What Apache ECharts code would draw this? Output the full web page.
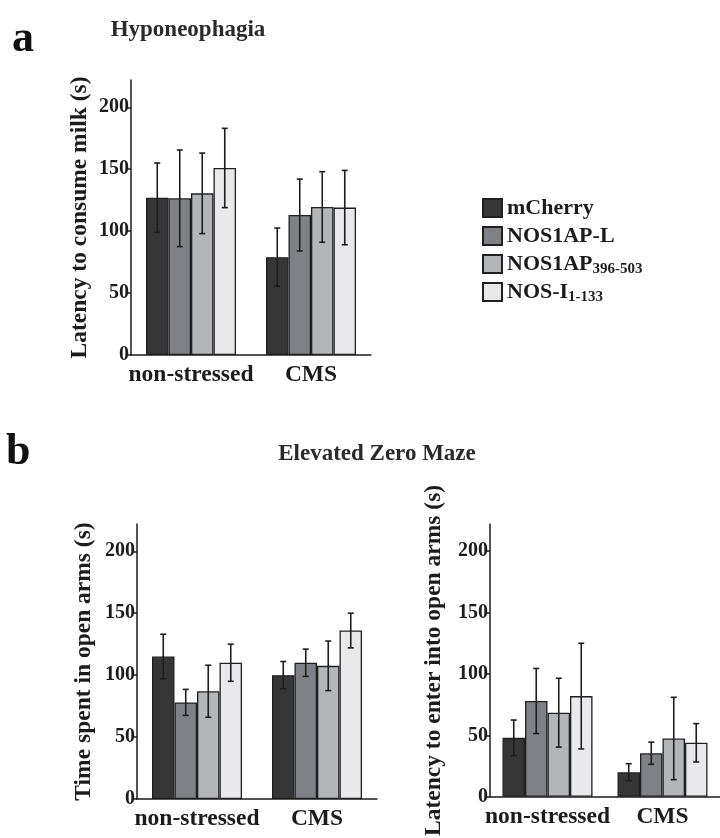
<!DOCTYPE html>
<html>
<head>
<meta charset="utf-8">
<script src="https://cdn.jsdelivr.net/npm/echarts@6/dist/echarts.min.js"></script>
<style>
  html, body { margin: 0; padding: 0; background: #ffffff; }
  #chart { width: 720px; height: 838px; }
</style>
</head>
<body>
<div id="chart"></div>
<script>
// Groups on the x axis and the four viral constructs
const groups = ['non-stressed', 'CMS'];
const constructs = ['mCherry', 'NOS1AP-L', 'NOS1AP396-503', 'NOS-I1-133'];
const legendMain = ['mCherry', 'NOS1AP-L', 'NOS1AP', 'NOS-I'];
const legendSub = ['', '', '396-503', '1-133'];
const yTicks = [0, 50, 100, 150, 200];

// Hyponeophagia: latency to consume milk (s), mean and error per construct [non-stressed, CMS]
const hypoMean = [[127, 79], [126.5, 113], [130.5, 119.5], [151, 119]];
const hypoErr = [[28, 23.5], [39, 29], [32.5, 28.5], [32, 30]];

// Elevated zero maze: time spent in open arms (s)
const ezmTimeMean = [[115, 100], [78, 110], [87, 107.5], [110, 136]];
const ezmTimeErr = [[18, 11], [10.5, 11], [21, 20], [15, 14]];

// Elevated zero maze: latency to enter into open arms (s)
const ezmLatMean = [[48, 20], [78, 35.5], [68.5, 47.5], [82, 44]];
const ezmLatErr = [[14.5, 7], [26.5, 9], [28, 33.5], [43, 15.6]];

const FONT = "'Liberation Serif', 'Times New Roman', serif";
const INK = '#1c1c1c';
const fills = ['#363636', '#808186', '#b4b5b9', '#e9e9eb'];
const BAR_W = 22.5;
const Y_MAX = 222;
const LEGEND_TOP = 195;
const LEGEND_STEP = 28;

const chart = echarts.init(document.getElementById('chart'));

const grids = [
  { left: 131, top: 80, width: 240, height: 275 },
  { left: 137, top: 524, width: 240, height: 275 },
  { left: 490, top: 524, width: 242, height: 275 }
];
const yNames = ['Latency to consume milk (s)', 'Time spent in open arms (s)', 'Latency to enter into open arms (s)'];
const yNameGaps = [39, 41, 44];
const panels = [
  { mean: hypoMean, err: hypoErr },
  { mean: ezmTimeMean, err: ezmTimeErr },
  { mean: ezmLatMean, err: ezmLatErr }
];

const xAxes = grids.map((g, i) => ({
  type: 'category',
  gridIndex: i,
  data: groups,
  axisLine: { lineStyle: { color: INK, width: 1.5 } },
  axisTick: { alignWithLabel: true, inside: true, length: 6, lineStyle: { color: INK, width: 1.5 } },
  axisLabel: { interval: 0, hideOverlap: false, fontFamily: FONT, fontWeight: 'bold', fontSize: 23.5, color: INK, margin: 8 }
}));

const yAxes = grids.map((g, i) => ({
  type: 'value',
  gridIndex: i,
  min: 0,
  max: Y_MAX,
  interval: 50,
  splitLine: { show: false },
  axisLine: { show: true, lineStyle: { color: INK, width: 1.5 } },
  axisTick: { show: true, length: 4, customValues: yTicks, lineStyle: { color: INK, width: 1.5 } },
  axisLabel: { customValues: yTicks, fontFamily: FONT, fontWeight: 'bold', fontSize: 20, color: INK, margin: 2, padding: [3, 0, 0, 0] },
  name: yNames[i],
  nameLocation: 'middle',
  nameGap: yNameGaps[i],
  nameTextStyle: { fontFamily: FONT, fontWeight: 'bold', fontSize: 23.5, color: INK }
}));

const series = [];
panels.forEach((p, pi) => {
  constructs.forEach((name, k) => {
    series.push({
      type: 'bar',
      name: name,
      xAxisIndex: pi,
      yAxisIndex: pi,
      barWidth: BAR_W,
      barGap: '0%',
      data: p.mean[k],
      itemStyle: { color: fills[k], borderColor: '#202020', borderWidth: 1.3 },
      emphasis: { disabled: true },
      z: 2
    });
  });
  // error bars, centred on each bar of the group
  const errData = [];
  constructs.forEach((name, k) => {
    groups.forEach((g, c) => errData.push([c, p.mean[k][c], p.err[k][c], k]));
  });
  series.push({
    type: 'custom',
    name: 'sem-' + pi,
    xAxisIndex: pi,
    yAxisIndex: pi,
    data: errData,
    z: 5,
    silent: true,
    renderItem: function (params, api) {
      const c = api.value(0), v = api.value(1), e = api.value(2), k = api.value(3);
      const mid = api.coord([c, v]);
      const hi = api.coord([c, v + e]);
      const lo = api.coord([c, v - e]);
      const x = mid[0] + (k - 1.5) * BAR_W;
      const cap = 3;
      const st = { stroke: '#1e1e1e', lineWidth: 1.6 };
      return {
        type: 'group',
        children: [
          { type: 'line', shape: { x1: x, y1: hi[1], x2: x, y2: lo[1] }, style: st },
          { type: 'line', shape: { x1: x - cap, y1: hi[1], x2: x + cap, y2: hi[1] }, style: st },
          { type: 'line', shape: { x1: x - cap, y1: lo[1], x2: x + cap, y2: lo[1] }, style: st }
        ]
      };
    }
  });
});

// one legend row per construct, so every row has the same pitch
const legends = constructs.map((name, k) => ({
  data: [name],
  orient: 'vertical',
  left: 482,
  top: LEGEND_TOP + LEGEND_STEP * k,
  padding: 0,
  icon: 'rect',
  itemWidth: 19,
  itemHeight: 18,
  selectedMode: false,
  textStyle: {
    fontFamily: FONT, fontWeight: 'bold', fontSize: 22, color: INK, lineHeight: 22,
    rich: {
      m: { fontFamily: FONT, fontWeight: 'bold', fontSize: 22, color: INK, lineHeight: 22 },
      s: { fontFamily: FONT, fontWeight: 'bold', fontSize: 15, color: INK, lineHeight: 11, padding: [11, 0, 0, 0] }
    }
  },
  formatter: function (n) {
    const i = constructs.indexOf(n);
    return '{m|' + legendMain[i] + '}{s|' + (legendSub[i] || ' ') + '}';
  }
}));

chart.setOption({
  animation: false,
  backgroundColor: '#ffffff',
  grid: grids,
  xAxis: xAxes,
  yAxis: yAxes,
  legend: legends,
  graphic: [
    { type: 'text', left: 12, top: 18, style: { text: 'a', font: 'bold 44px ' + FONT, fill: '#111' } },
    { type: 'text', x: 188, y: 19, style: { text: 'Hyponeophagia', font: 'bold 23px ' + FONT, fill: '#2a2a2a', textAlign: 'center' } },
    { type: 'text', left: 6, top: 431, style: { text: 'b', font: 'bold 44px ' + FONT, fill: '#111' } },
    { type: 'text', x: 377, y: 443, style: { text: 'Elevated Zero Maze', font: 'bold 23px ' + FONT, fill: '#2a2a2a', textAlign: 'center' } }
  ],
  series: series
});
</script>
</body>
</html>
